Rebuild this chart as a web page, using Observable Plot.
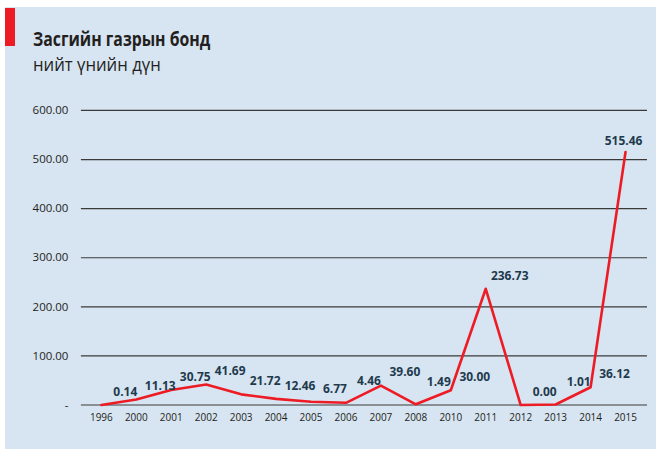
<!DOCTYPE html>
<html>
<head>
<meta charset="utf-8">
<script src="https://cdn.jsdelivr.net/npm/d3@7"></script>
<script src="https://cdn.jsdelivr.net/npm/@observablehq/plot@0.6"></script>
<style>
  html, body { margin: 0; padding: 0; background: #ffffff; }
  #card { position: absolute; left: 5px; top: 7px; width: 651px; height: 442px; background: #d7e4f1; overflow: hidden; }
  #bar { position: absolute; left: -1px; top: 1px; width: 11px; height: 38px; background: #ed1c24; }
  #title { position: absolute; left: 28px; top: 22px; line-height: 20px; font-family: "Open Sans", sans-serif; font-weight: bold; font-size: 20px; color: #231f20; transform: scaleX(0.79); transform-origin: left top; white-space: nowrap; }
  #subtitle { position: absolute; left: 28px; top: 48px; line-height: 19px; font-family: "Open Sans", sans-serif; font-size: 19px; color: #231f20; transform: scaleX(0.88); transform-origin: left top; white-space: nowrap; }
  #chart { position: absolute; left: -5px; top: 83px; }
</style>
</head>
<body>
<div id="card">
  <div id="bar"></div>
  <div id="title">Засгийн газрын бонд</div>
  <div id="subtitle">нийт үнийн дүн</div>
  <div id="chart"></div>
</div>
<script>
const years = ["1996","2000","2001","2002","2003","2004","2005","2006","2007","2008","2010","2011","2012","2013","2014","2015"];
const values = [0.14, 11.13, 30.75, 41.69, 21.72, 12.46, 6.77, 4.46, 39.60, 1.49, 30.00, 236.73, 0.00, 1.01, 36.12, 515.46];
const yTicks = [0, 100, 200, 300, 400, 500, 600];

const data = years.map((y, i) => ({year: y, value: values[i], next: values[i + 1]}));
const last = data.length - 1;
// points sitting low right before a sharp rise get their label lifted clear of the line
const beforeRise = d => d.next !== undefined && d.value < 5 && d.next - d.value > 20;

const labelStyle = {x: "year", y: "value", text: d => d.value.toFixed(2), fontSize: 12, fontWeight: "bold", fill: "#1e3a4c"};

const chart = Plot.plot({
  width: 657,
  height: 350,
  marginLeft: 81,
  marginRight: 9,
  marginTop: 20,
  marginBottom: 35,
  style: {background: "transparent", fontFamily: "'Open Sans', sans-serif"},
  x: {type: "point", domain: years, range: [97, 630], padding: 0, label: null},
  y: {domain: [0, 600], label: null},
  marks: [
    Plot.ruleY(yTicks, {stroke: "#3a3a3a", strokeWidth: 1.2}),
    Plot.axisY({ticks: yTicks, tickSize: 0, tickPadding: 13, tickFormat: d => d === 0 ? "-" : d.toFixed(2), fontSize: 11.5, fill: "#231f20", label: null}),
    Plot.axisX({tickSize: 0, tickPadding: 9, fontSize: 10, fill: "#231f20", label: null}),
    Plot.line(data, {x: "year", y: "value", stroke: "#ed1c24", strokeWidth: 2.6}),
    Plot.text(data.filter((d, i) => i < last && !beforeRise(d)), {...labelStyle, dx: 24, dy: -13}),
    Plot.text(data.filter((d, i) => i < last && beforeRise(d)), {...labelStyle, dx: 23, dy: -22}),
    Plot.text(data.filter((d, i) => i === last), {...labelStyle, dx: -2, dy: -11})
  ]
});
document.getElementById("chart").appendChild(chart);
</script>
</body>
</html>
